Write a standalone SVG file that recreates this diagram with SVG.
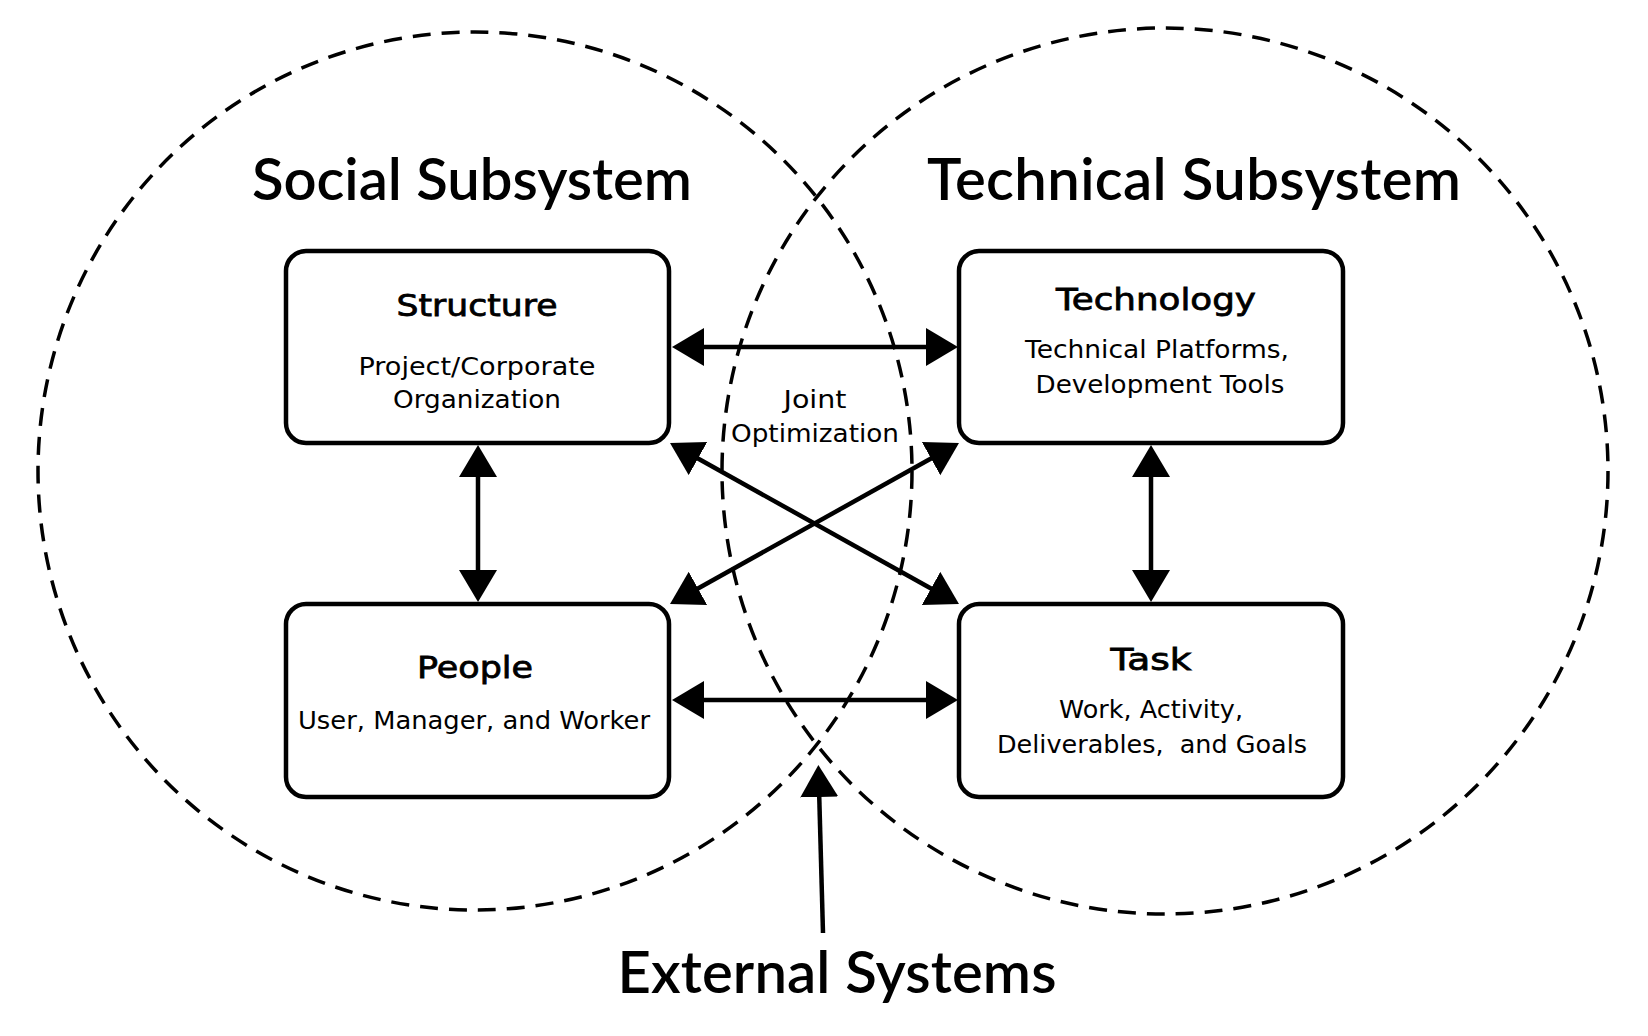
<svg xmlns="http://www.w3.org/2000/svg" width="1648" height="1036" viewBox="0 0 1648 1036">
  <style>
    .bg { fill: #ffffff; }
    .sub { fill: none; stroke: #000; stroke-width: 3.5; stroke-dasharray: 18 11; }
    .box { fill: #ffffff; stroke: #000; stroke-width: 4.5; }
    .conn { fill: none; stroke: #000; stroke-width: 4.5; }
    text { font-family: "DejaVu Sans", "Open Sans", sans-serif; fill: #000; text-anchor: middle; }
    .head { font-family: "Lato", "Open Sans", sans-serif; font-size: 58px; font-weight: 600; }
    .title { font-size: 31px; font-weight: 400; stroke: #000; stroke-width: 0.8; }
    .desc { font-size: 24px; font-weight: 400; }
  </style>
  <defs>
    <marker id="arr" markerUnits="userSpaceOnUse" markerWidth="34" markerHeight="40" viewBox="0 0 34 40" refX="20" refY="19" orient="auto-start-reverse">
      <path d="M0,0 L32,19 L0,38 Z" fill="#000"/>
    </marker>
  </defs>
  <rect class="bg" x="0" y="0" width="1648" height="1036"/>

  <g id="subsystems">
    <ellipse id="social-circle" class="sub" cx="475" cy="471" rx="437" ry="439"/>
    <ellipse id="technical-circle" class="sub" cx="1165" cy="471" rx="443" ry="443"/>
  </g>

  <g id="labels">
    <text id="social-label" class="head" x="472" y="200" textLength="440" lengthAdjust="spacing">Social Subsystem</text>
    <text id="technical-label" class="head" x="1194" y="200" textLength="534" lengthAdjust="spacing">Technical Subsystem</text>
    <text id="external-label" class="head" x="837" y="993" textLength="439" lengthAdjust="spacing">External Systems</text>
    <g id="joint-optimization">
      <text class="desc" x="815" y="408" textLength="63" lengthAdjust="spacingAndGlyphs">Joint</text>
      <text class="desc" x="815" y="442" textLength="168" lengthAdjust="spacingAndGlyphs">Optimization</text>
    </g>
  </g>

  <g id="connectors">
    <line class="conn" x1="684" y1="347" x2="946" y2="347" marker-start="url(#arr)" marker-end="url(#arr)"/>
    <line class="conn" x1="684" y1="700" x2="946" y2="700" marker-start="url(#arr)" marker-end="url(#arr)"/>
    <line class="conn" x1="478" y1="457" x2="478" y2="590" marker-start="url(#arr)" marker-end="url(#arr)"/>
    <line class="conn" x1="1151" y1="457" x2="1151" y2="590" marker-start="url(#arr)" marker-end="url(#arr)"/>
    <line class="conn" x1="680.5" y1="448.8" x2="948.5" y2="598.2" marker-start="url(#arr)" marker-end="url(#arr)"/>
    <line class="conn" x1="948.5" y1="448.8" x2="680.5" y2="598.2" marker-start="url(#arr)" marker-end="url(#arr)"/>
    <line class="conn" x1="823" y1="933" x2="818.7" y2="777" marker-end="url(#arr)"/>
  </g>

  <g id="structure">
    <rect class="box" x="286" y="251" width="383" height="192" rx="20"/>
    <text class="title" x="477" y="316" textLength="161" lengthAdjust="spacingAndGlyphs">Structure</text>
    <text class="desc" x="477" y="375" textLength="237" lengthAdjust="spacingAndGlyphs">Project/Corporate</text>
    <text class="desc" x="477" y="408" textLength="168" lengthAdjust="spacingAndGlyphs">Organization</text>
  </g>

  <g id="technology">
    <rect class="box" x="959" y="251" width="384" height="192" rx="20"/>
    <text class="title" x="1156" y="310" textLength="200" lengthAdjust="spacingAndGlyphs">Technology</text>
    <text class="desc" x="1157" y="358" textLength="264" lengthAdjust="spacingAndGlyphs">Technical Platforms,</text>
    <text class="desc" x="1160" y="393" textLength="249" lengthAdjust="spacingAndGlyphs">Development Tools</text>
  </g>

  <g id="people">
    <rect class="box" x="286" y="604" width="383" height="193" rx="20"/>
    <text class="title" x="475" y="678" textLength="116" lengthAdjust="spacingAndGlyphs">People</text>
    <text class="desc" x="474" y="729" textLength="352" lengthAdjust="spacingAndGlyphs">User, Manager, and Worker</text>
  </g>

  <g id="task">
    <rect class="box" x="959" y="604" width="384" height="193" rx="20"/>
    <text class="title" x="1151" y="670" textLength="81" lengthAdjust="spacingAndGlyphs">Task</text>
    <text class="desc" x="1151" y="718" textLength="184" lengthAdjust="spacingAndGlyphs">Work, Activity,</text>
    <text class="desc" x="1152" y="753" textLength="310" lengthAdjust="spacingAndGlyphs" xml:space="preserve">Deliverables,  and Goals</text>
  </g>
</svg>
